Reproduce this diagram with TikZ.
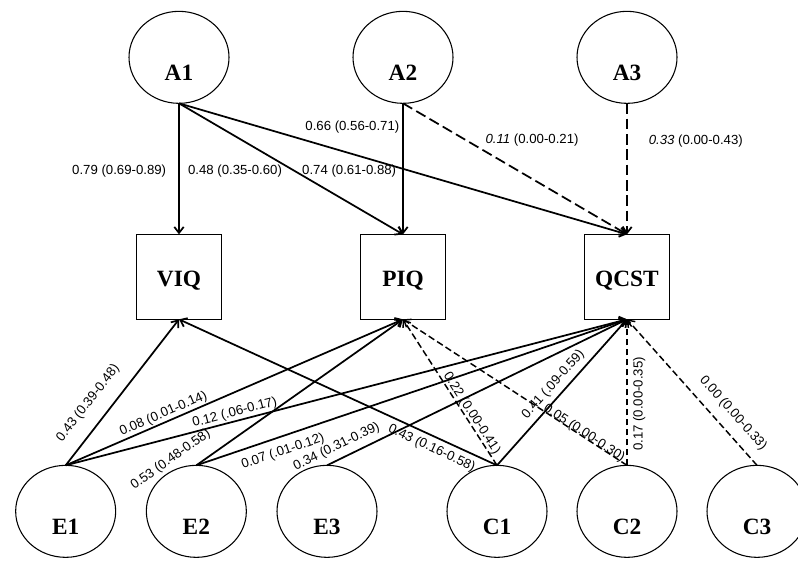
\documentclass[tikz,border=0pt]{standalone}
\usepackage{fontspec}
\setmainfont{Liberation Serif}
\setsansfont{Liberation Sans}
\usetikzlibrary{shapes,arrows.meta,positioning}

\begin{document}
\begin{tikzpicture}[
    latent/.style={ellipse, draw, line width=0.8pt, outer sep=0pt, minimum width=75pt, minimum height=69pt, text height=34pt, text depth=0pt, font=\bfseries\fontsize{17.5}{20}\selectfont},
    observed/.style={rectangle, draw, line width=0.8pt, outer sep=0pt, minimum width=63.75pt, minimum height=63.75pt, text height=15pt, text depth=0pt, font=\bfseries\fontsize{17.5}{20}\selectfont},
    arrow/.style={-{Straight Barb[length=4.5pt, width=7pt]}, line width=1.3pt},
    dasharrow/.style={arrow, dash pattern=on 8pt off 3.5pt},
    finedash/.style={-{Straight Barb[length=4.5pt, width=7pt]}, line width=1.1pt, dash pattern=on 5pt off 2.5pt},
    coef/.style={font=\sffamily\fontsize{9.9}{12}\selectfont, inner sep=1pt}
]
\useasboundingbox (0,0) rectangle (598.5pt,-420pt);

% Genetic factors
\node[latent] (A1) at (134.25pt,-43pt) {A1};
\node[latent, right=93pt of A1] (A2) {A2};
\node[latent, right=93pt of A2] (A3) {A3};

% Measures
\node[observed, below=98.25pt of A1] (VIQ) {VIQ};
\node[observed, below=98.25pt of A2] (PIQ) {PIQ};
\node[observed, below=98.25pt of A3] (QCST) {QCST};

% Environmental factors
\node[latent, below=109.5pt of QCST] (C2) {C2};
\node[latent, left=22.5pt of C2] (C1) {C1};
\node[latent, right=22.5pt of C2] (C3) {C3};
\node[latent, left=52.5pt of C1] (E3) {E3};
\node[latent, left=23pt of E3] (E2) {E2};
\node[latent, left=23pt of E2] (E1) {E1};

% A paths
\draw[arrow] (A1.south) -- (VIQ.north) node[coef, pos=0.52, left=8pt] {0.79 (0.69-0.89)};
\draw[arrow] (A1.south) -- (PIQ.north) node[coef, pos=0.52, left=8.5pt] {0.48 (0.35-0.60)};
\draw[arrow] (A1.south) -- (QCST.north) node[coef, pos=0.387, above=13.6pt] {0.66 (0.56-0.71)};
\draw[arrow] (A2.south) -- (PIQ.north) node[coef, pos=0.52, left=3.5pt] {0.74 (0.61-0.88)};
\draw[dasharrow] (A2.south) -- (QCST.north) node[coef, pos=0.28, right=13.25pt] {\textit{0.11} (0.00-0.21)};
\draw[dasharrow] (A3.south) -- (QCST.north) node[coef, pos=0.29, right=14.75pt] {\textit{0.33} (0.00-0.43)};

% E paths
\draw[arrow] (E1.north) -- (VIQ.south) node[coef, sloped, pos=0.34, above=9pt] {0.43 (0.39-0.48)};
\draw[arrow] (E1.north) -- (PIQ.south) node[coef, sloped, pos=0.30, above=0pt] {0.08 (0.01-0.14)};
\draw[arrow] (E1.north) -- (QCST.south) node[coef, sloped, pos=0.305, above=0pt] {0.12 (.06-0.17)};
\draw[arrow] (E2.north) -- (PIQ.south) node[coef, sloped, pos=-0.07, above=8.3pt] {0.53 (0.48-0.58)};
\draw[arrow] (E2.north) -- (QCST.south) node[coef, sloped, pos=0.19, below=4.9pt] {0.07 (.01-0.12)};
\draw[arrow] (E3.north) -- (QCST.south) node[coef, sloped, pos=0.05, above=3pt] {0.34 (0.31-0.39)};

% C paths
\draw[arrow] (C1.north) -- (VIQ.south) node[coef, sloped, pos=0.19, below=2.6pt] {0.43 (0.16-0.58)};
\draw[finedash] (C1.north) -- (PIQ.south) node[coef, sloped, pos=0.33, above=-1pt] {0.22 (0.00-0.41)};
\draw[arrow] (C1.north) -- (QCST.south) node[coef, sloped, pos=0.5, above=2.5pt] {0.41 (.09-0.59)};
\draw[finedash] (C2.north) -- (PIQ.south) node[coef, sloped, pos=0.2, above=-3.5pt] {0.05 (0.00-0.30)};
\draw[finedash] (C2.north) -- (QCST.south) node[coef, sloped, pos=0.42, below=2.9pt] {0.17 (0.00-0.35)};
\draw[finedash] (C3.north) -- (QCST.south) node[coef, sloped, pos=0.28, above=6.4pt] {0.00 (0.00-0.33)};

\end{tikzpicture}
\end{document}
